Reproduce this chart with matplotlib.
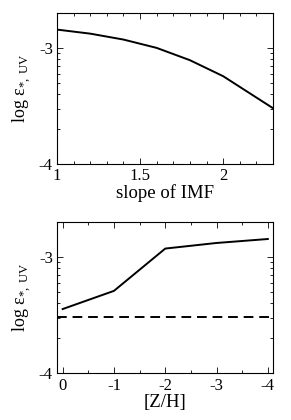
import numpy as np
import matplotlib
matplotlib.use('Agg')
import matplotlib.pyplot as plt
from matplotlib.ticker import FixedLocator, MultipleLocator

# top panel: emissivity vs IMF slope
imf_slope = [1.0, 1.2, 1.4, 1.6, 1.8, 2.0, 2.3]
log_eps_imf = [-2.842, -2.877, -2.928, -3.0, -3.106, -3.244, -3.52]

# bottom panel: emissivity vs metallicity
metallicity = [0, -1, -2, -3, -4]
log_eps_z = [-3.448, -3.292, -2.929, -2.881, -2.847]
log_eps_ref = -3.518

plt.rcParams['font.family'] = ['Liberation Serif', 'DejaVu Serif']
plt.rcParams['mathtext.fontset'] = 'custom'
plt.rcParams['mathtext.rm'] = 'Liberation Serif'

fig = plt.figure(figsize=(2.91, 4.2), dpi=100)
ax1 = fig.add_axes([0.196, 0.610, 0.742, 0.359])
ax2 = fig.add_axes([0.196, 0.111, 0.742, 0.361])

# log-style minor ticks between decades
minor_y = [d + np.log10(k) for d in (-4, -3) for k in range(2, 10)]

ax1.plot(imf_slope, log_eps_imf, color='black', lw=1.4)
ax1.set_xlim(1, 2.3)
ax1.xaxis.set_major_locator(FixedLocator([1, 1.5, 2]))
ax1.set_xticklabels(['1', '1.5', '2'])
ax1.xaxis.set_minor_locator(MultipleLocator(0.1))
ax1.set_xlabel('slope of IMF', fontsize=13.5, labelpad=0)

ax2.plot(metallicity, log_eps_z, color='black', lw=1.4)
ax2.axhline(log_eps_ref, color='black', lw=1.4, ls=(0, (5, 3)))
ax2.set_xlim(0.11, -4.1)
ax2.xaxis.set_major_locator(FixedLocator([0, -1, -2, -3, -4]))
ax2.set_xticklabels(['0', '-1', '-2', '-3', '-4'])
ax2.xaxis.set_minor_locator(FixedLocator([-0.5, -1.5, -2.5, -3.5]))
ax2.set_xlabel('[Z/H]', fontsize=13.5, labelpad=0)

for ax in (ax1, ax2):
    ax.set_ylim(-4, -2.699)
    ax.yaxis.set_major_locator(FixedLocator([-4, -3]))
    ax.set_yticklabels(['-4', '-3'])
    ax.yaxis.set_minor_locator(FixedLocator(minor_y))
    ax.set_ylabel('log ε$_{*,\\,\\rm UV}$', fontsize=13, labelpad=4)
    ax.tick_params(which='both', direction='in', top=True, right=True,
                   labelsize=12, width=0.6)
    ax.tick_params(which='major', length=4, pad=3)
    ax.tick_params(which='minor', length=2)
    for s in ax.spines.values():
        s.set_linewidth(0.8)

fig.savefig('out.png', dpi=100)
